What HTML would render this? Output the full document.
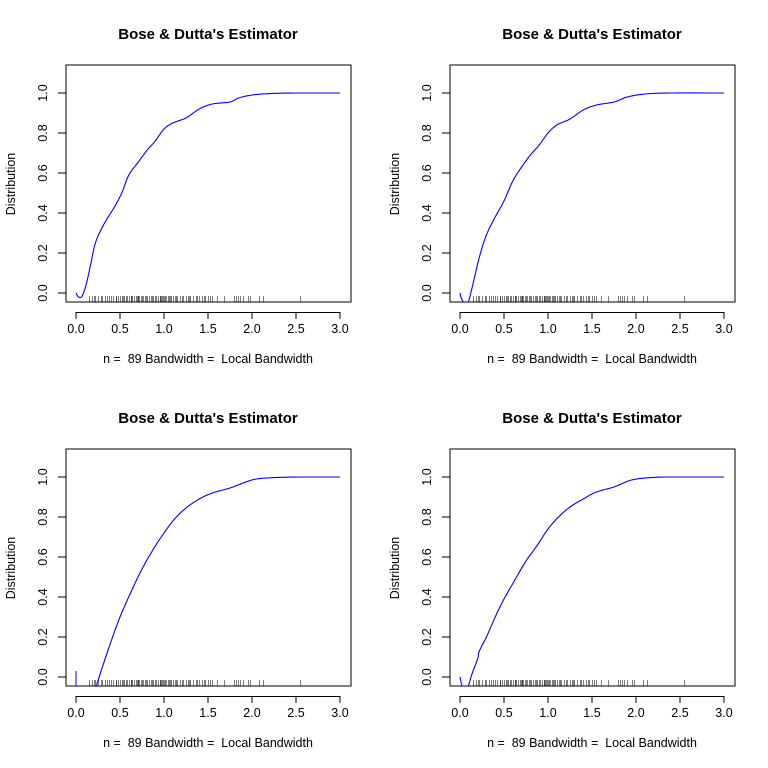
<!DOCTYPE html>
<html><head><meta charset="utf-8"><style>html,body{margin:0;padding:0;background:#fff}svg{display:block}text{font-family:"Liberation Sans",Arial,sans-serif;fill:#000;white-space:pre}</style></head>
<body>
<svg id="s" width="768" height="768" viewBox="0 0 768 768" xmlns="http://www.w3.org/2000/svg" xml:space="preserve">
<defs>
<clipPath id="c"><rect x="66" y="65" width="285" height="237"/></clipPath>
</defs>
<g id="p0">
<text x="208" y="39" font-size="15" font-weight="bold" text-anchor="middle">Bose &amp; Dutta's Estimator</text>
<text x="208" y="363" font-size="12.5" text-anchor="middle">n =  89 Bandwidth =  Local Bandwidth</text>
<text transform="translate(15,184) rotate(-90)" font-size="12.5" text-anchor="middle">Distribution</text>
<g font-size="12.5" text-anchor="middle">
<text x="76" y="333">0.0</text><text x="120" y="333">0.5</text><text x="164" y="333">1.0</text><text x="208" y="333">1.5</text><text x="252" y="333">2.0</text><text x="296" y="333">2.5</text><text x="340" y="333">3.0</text>
<text transform="translate(47,293) rotate(-90)">0.0</text><text transform="translate(47,253) rotate(-90)">0.2</text><text transform="translate(47,213) rotate(-90)">0.4</text><text transform="translate(47,173) rotate(-90)">0.6</text><text transform="translate(47,133) rotate(-90)">0.8</text><text transform="translate(47,93) rotate(-90)">1.0</text>
</g>
</g>
<g id="p1" transform="translate(384,0)">
<text x="208" y="39" font-size="15" font-weight="bold" text-anchor="middle">Bose &amp; Dutta's Estimator</text>
<text x="208" y="363" font-size="12.5" text-anchor="middle">n =  89 Bandwidth =  Local Bandwidth</text>
<text transform="translate(15,184) rotate(-90)" font-size="12.5" text-anchor="middle">Distribution</text>
<g font-size="12.5" text-anchor="middle">
<text x="76" y="333">0.0</text><text x="120" y="333">0.5</text><text x="164" y="333">1.0</text><text x="208" y="333">1.5</text><text x="252" y="333">2.0</text><text x="296" y="333">2.5</text><text x="340" y="333">3.0</text>
<text transform="translate(47,293) rotate(-90)">0.0</text><text transform="translate(47,253) rotate(-90)">0.2</text><text transform="translate(47,213) rotate(-90)">0.4</text><text transform="translate(47,173) rotate(-90)">0.6</text><text transform="translate(47,133) rotate(-90)">0.8</text><text transform="translate(47,93) rotate(-90)">1.0</text>
</g>
</g>
<g id="p2" transform="translate(0,384)">
<text x="208" y="39" font-size="15" font-weight="bold" text-anchor="middle">Bose &amp; Dutta's Estimator</text>
<text x="208" y="363" font-size="12.5" text-anchor="middle">n =  89 Bandwidth =  Local Bandwidth</text>
<text transform="translate(15,184) rotate(-90)" font-size="12.5" text-anchor="middle">Distribution</text>
<g font-size="12.5" text-anchor="middle">
<text x="76" y="333">0.0</text><text x="120" y="333">0.5</text><text x="164" y="333">1.0</text><text x="208" y="333">1.5</text><text x="252" y="333">2.0</text><text x="296" y="333">2.5</text><text x="340" y="333">3.0</text>
<text transform="translate(47,293) rotate(-90)">0.0</text><text transform="translate(47,253) rotate(-90)">0.2</text><text transform="translate(47,213) rotate(-90)">0.4</text><text transform="translate(47,173) rotate(-90)">0.6</text><text transform="translate(47,133) rotate(-90)">0.8</text><text transform="translate(47,93) rotate(-90)">1.0</text>
</g>
</g>
<g id="p3" transform="translate(384,384)">
<text x="208" y="39" font-size="15" font-weight="bold" text-anchor="middle">Bose &amp; Dutta's Estimator</text>
<text x="208" y="363" font-size="12.5" text-anchor="middle">n =  89 Bandwidth =  Local Bandwidth</text>
<text transform="translate(15,184) rotate(-90)" font-size="12.5" text-anchor="middle">Distribution</text>
<g font-size="12.5" text-anchor="middle">
<text x="76" y="333">0.0</text><text x="120" y="333">0.5</text><text x="164" y="333">1.0</text><text x="208" y="333">1.5</text><text x="252" y="333">2.0</text><text x="296" y="333">2.5</text><text x="340" y="333">3.0</text>
<text transform="translate(47,293) rotate(-90)">0.0</text><text transform="translate(47,253) rotate(-90)">0.2</text><text transform="translate(47,213) rotate(-90)">0.4</text><text transform="translate(47,173) rotate(-90)">0.6</text><text transform="translate(47,133) rotate(-90)">0.8</text><text transform="translate(47,93) rotate(-90)">1.0</text>
</g>
</g>
</svg>
<script>
var NS="http://www.w3.org/2000/svg";
function X(v){return 76+v*88;}function Y(v){return 293-v*200;}
var rug=[0.15,0.18,0.2,0.22,0.25,0.28,0.3,0.33,0.37,0.4,0.42,0.45,0.48,0.5,0.52,0.55,0.57,0.58,0.6,0.62,0.64,0.66,0.68,0.7,0.72,0.74,0.76,0.78,0.8,0.83,0.85,0.88,0.9,0.91,0.95,0.96,0.97,0.98,1.0,1.02,1.04,1.06,1.08,1.1,1.12,1.15,1.18,1.22,1.25,1.28,1.3,1.33,1.36,1.4,1.43,1.46,1.5,1.52,1.55,1.6,1.68,1.8,1.82,1.84,1.86,1.9,1.95,1.98,2.08,2.12,2.55,0.35,0.53,0.63,0.69,0.75,0.86,0.93,1.01,1.07,1.14,1.2,1.27,1.38,1.47,0.46,0.71,0.81,0.99];
var curves=[
[[0,0],[0.03,-0.02],[0.07,-0.015],[0.12,0.05],[0.17,0.15],[0.22,0.25],[0.3,0.33],[0.38,0.39],[0.45,0.44],[0.52,0.5],[0.6,0.59],[0.7,0.65],[0.8,0.71],[0.9,0.76],[1.0,0.82],[1.1,0.85],[1.25,0.875],[1.4,0.92],[1.55,0.945],[1.75,0.955],[1.85,0.975],[2.0,0.99],[2.2,0.997],[2.5,1.0],[3,1.0]],
[[0,0.0],[0.02,-0.03],[0.08,-0.06],[0.15,0.05],[0.22,0.18],[0.3,0.29],[0.4,0.38],[0.5,0.46],[0.6,0.56],[0.7,0.63],[0.8,0.69],[0.9,0.74],[1.0,0.8],[1.1,0.84],[1.25,0.87],[1.4,0.915],[1.55,0.94],[1.75,0.955],[1.9,0.98],[2.1,0.995],[2.4,1.0],[3,1.0]],
[[0.22,-0.06],[0.3,0.05],[0.4,0.18],[0.5,0.3],[0.63,0.43],[0.75,0.54],[0.88,0.64],[1.0,0.72],[1.12,0.79],[1.25,0.845],[1.4,0.89],[1.55,0.92],[1.75,0.945],[1.9,0.97],[2.05,0.99],[2.3,0.998],[2.6,1.0],[3,1.0]],
[[0,0.0],[0.03,-0.05],[0.08,-0.06],[0.14,0.02],[0.2,0.09],[0.22,0.13],[0.3,0.2],[0.4,0.3],[0.5,0.39],[0.63,0.49],[0.75,0.58],[0.88,0.66],[1.0,0.74],[1.12,0.8],[1.25,0.85],[1.4,0.89],[1.55,0.925],[1.75,0.95],[1.95,0.985],[2.2,0.998],[2.5,1.0],[3,1.0]]
];
function el(t,a,p){var e=document.createElementNS(NS,t);for(var k in a)e.setAttribute(k,a[k]);p.appendChild(e);return e;}
function smooth(c){var d="M"+X(c[0][0]).toFixed(1)+","+Y(c[0][1]).toFixed(1);
 for(var i=0;i<c.length-1;i++){var p0=c[Math.max(i-1,0)],p1=c[i],p2=c[i+1],p3=c[Math.min(i+2,c.length-1)];
  for(var s=1;s<=6;s++){var t=s/6,t2=t*t,t3=t2*t;
   var f=function(a,b,cc,dd){return 0.5*((2*b)+(-a+cc)*t+(2*a-5*b+4*cc-dd)*t2+(-a+3*b-3*cc+dd)*t3);};
   d+="L"+X(f(p0[0],p1[0],p2[0],p3[0])).toFixed(1)+","+Y(f(p0[1],p1[1],p2[1],p3[1])).toFixed(1);}}
 return d;}
for(var i=0;i<4;i++){
 var g=document.getElementById("p"+i);
 el("rect",{x:66,y:65,width:285,height:237,fill:"none",stroke:"#000","stroke-width":1},g);
 el("line",{x1:76,y1:312.5,x2:340,y2:312.5,stroke:"#000"},g);
 for(var t=0;t<=6;t++)el("line",{x1:X(t*0.5),y1:312,x2:X(t*0.5),y2:319,stroke:"#000"},g);
 for(var t=0;t<=5;t++)el("line",{x1:58,y1:Y(t*0.2),x2:66,y2:Y(t*0.2),stroke:"#000"},g);
 var rg=el("g",{stroke:"#000","stroke-opacity":0.5,"stroke-width":1},g);
 rug.forEach(function(r){var x=Math.round(X(r))+0.5;el("line",{x1:x,y1:296,x2:x,y2:302},rg);});
 el("path",{d:smooth(curves[i]),fill:"none",stroke:"#0000ff","stroke-width":1.1,"clip-path":"url(#c)"},g);
 if(i==2)el("line",{x1:76,y1:Y(0.03),x2:76,y2:Y(-0.05),stroke:"#0000ff","clip-path":"url(#c)"},g);
}
</script>
</body></html>
